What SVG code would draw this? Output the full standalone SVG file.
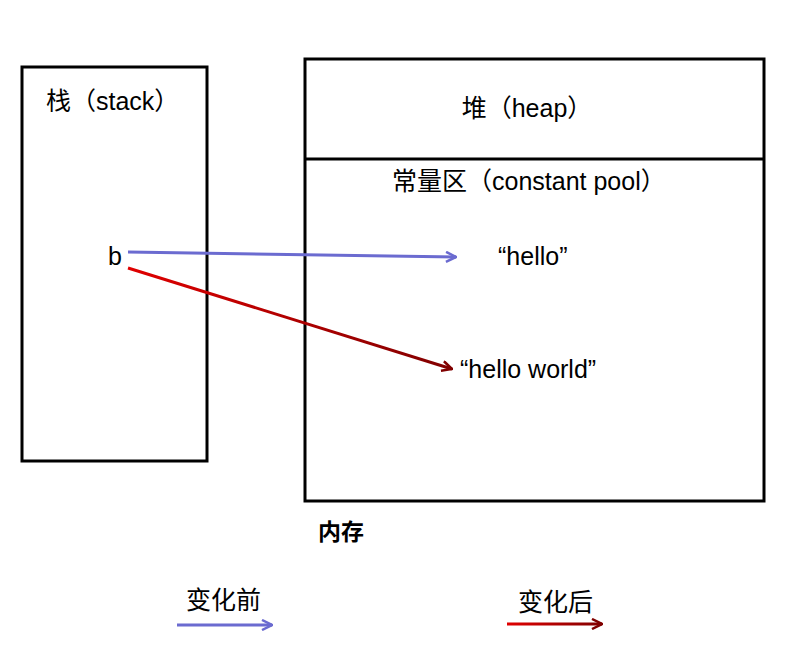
<svg xmlns="http://www.w3.org/2000/svg" width="804" height="658" viewBox="0 0 804 658">
<defs>
<style>
.box{fill:#fff;stroke:#000;stroke-width:3}
.t{font-family:"Liberation Sans","Noto Sans CJK SC",sans-serif;font-size:25px;fill:#000}
.b{font-weight:bold;font-size:23px}
.blue{stroke:#6b6bd0;stroke-width:3;fill:none}
</style>
<linearGradient id="gRed" gradientUnits="userSpaceOnUse" x1="128" y1="268" x2="453" y2="369">
<stop offset="0" stop-color="#e00000"/><stop offset="1" stop-color="#800000"/>
</linearGradient>
<linearGradient id="gRed2" gradientUnits="userSpaceOnUse" x1="507" y1="624" x2="603" y2="624">
<stop offset="0" stop-color="#e00000"/><stop offset="1" stop-color="#800000"/>
</linearGradient>
<marker id="aBlue" viewBox="0 0 12 12" refX="11" refY="6" markerWidth="12" markerHeight="12" markerUnits="userSpaceOnUse" orient="auto">
<polyline points="1,1 11,6 1,11" fill="none" stroke="#6b6bd0" stroke-width="2.5"/>
</marker>
<marker id="aRed" viewBox="0 0 12 12" refX="11" refY="6" markerWidth="12" markerHeight="12" markerUnits="userSpaceOnUse" orient="auto">
<polyline points="1,1 11,6 1,11" fill="none" stroke="#800000" stroke-width="2.5"/>
</marker>
</defs>
<rect width="804" height="658" fill="#fff"/>
<g id="stack">
<rect class="box" x="22" y="67" width="185" height="394"/>
<text class="t" x="46" y="110">栈（stack）</text>
<text class="t" x="108" y="265">b</text>
</g>
<g id="memory">
<rect class="box" x="305" y="59" width="459" height="442"/>
<line x1="305" y1="159" x2="764" y2="159" stroke="#000" stroke-width="3"/>
<text class="t" x="527" y="117" text-anchor="middle">堆（heap）</text>
<text class="t" x="392" y="190">常量区（constant pool）</text>
<text class="t" x="498" y="265">“hello”</text>
<text class="t" x="460" y="378">“hello world”</text>
<text class="t b" x="318" y="540">内存</text>
</g>
<g id="connectors">
<line class="blue" x1="128" y1="252" x2="456" y2="257" marker-end="url(#aBlue)"/>
<line x1="128" y1="268" x2="452" y2="369" stroke="url(#gRed)" stroke-width="3" marker-end="url(#aRed)"/>
</g>
<g id="legend">
<text class="t" x="186" y="609">变化前</text>
<line class="blue" x1="177" y1="625" x2="272" y2="625" marker-end="url(#aBlue)"/>
<text class="t" x="518" y="611">变化后</text>
<line x1="507" y1="624" x2="602" y2="624" stroke="url(#gRed2)" stroke-width="3" marker-end="url(#aRed)"/>
</g>
</svg>
